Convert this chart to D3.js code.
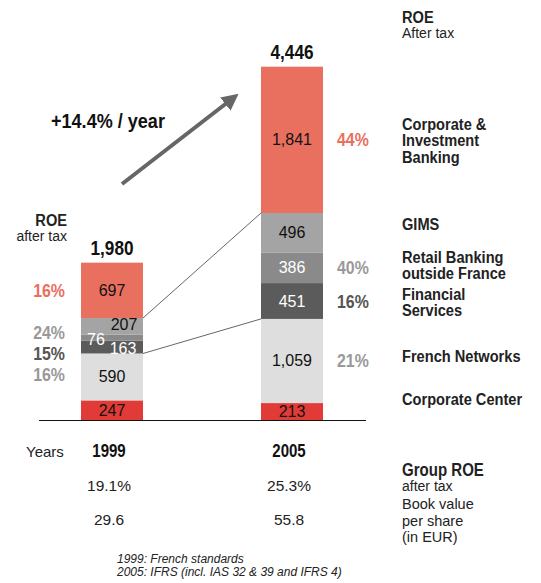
<!DOCTYPE html>
<html><head><meta charset="utf-8">
<script src="https://cdn.jsdelivr.net/npm/d3@7"></script>
<style>
body{margin:0;background:#fff;}
svg{font-family:"Liberation Sans",Arial,sans-serif;}
</style></head>
<body>
<svg id="c" width="541" height="583"></svg>
<script>
// ---- data ----
const years = ["1999", "2005"];
const segments = ["Corporate Center", "French Networks", "Financial Services", "Retail Banking outside France", "GIMS", "Corporate & Investment Banking"];
const values1999 = [247, 590, 163, 76, 207, 697];
const values2005 = [213, 1059, 451, 386, 496, 1841];
const totals = ["1,980", "4,446"];
const roe1999 = [null, "16%", "15%", "24%", null, "16%"];
const roe2005 = [null, "21%", "16%", "40%", null, "44%"];
const groupRoe = ["19.1%", "25.3%"];
const bookValue = ["29.6", "55.8"];
const growth = "+14.4% / year";
const segmentLabels = [["Corporate Center"], ["French Networks"], ["Financial", "Services"], ["Retail Banking", "outside France"], ["GIMS"], ["Corporate &", "Investment", "Banking"]];

// ---- styles ----
const fills = ["#e13b37", "#dedede", "#5b5b5b", "#8a8a8a", "#a4a4a4", "#e9705f"];
const labelFill = ["#111", "#111", "#fff", "#fff", "#111", "#111"];
const roeColor = ["#999", "#999", "#555", "#999", "#999", "#e9705f"];
const SX = 0.86; // horizontal condensing of bold headline type

const svg = d3.select("#c");
const y = d3.scaleLinear().domain([0, 4446]).range([420, 66.7]);
const x = d3.scalePoint().domain(years).range([112, 292]);
const bw = 62;

// condensed bold text helper
function ctext(px, py, size, anchor, fill, lines, lh) {
  const g = svg.append("g").attr("transform", `translate(${px},${py}) scale(${SX},1)`);
  const t = g.append("text").attr("font-weight", "bold").attr("font-size", size)
    .attr("text-anchor", anchor).attr("fill", fill);
  [].concat(lines).forEach((l, j) => t.append("tspan").attr("x", 0).attr("y", j * (lh || 0)).text(l));
  return t;
}

const series = [values1999, values2005];
const stacks = series.map(vals => {
  let acc = 0;
  return vals.map((v, i) => { const d = {i, v, y0: acc, y1: acc + v}; acc += v; return d; });
});

years.forEach((yr, k) => {
  const g = svg.append("g");
  const cx = x(yr);
  g.selectAll("rect").data(stacks[k]).join("rect")
    .attr("x", cx - bw / 2).attr("width", bw)
    .attr("y", d => y(d.y1)).attr("height", d => y(d.y0) - y(d.y1))
    .attr("fill", d => fills[d.i]);
  // value labels
  const dx1999 = {3: -16, 4: 12, 2: 11};
  const dy1999 = {3: 2, 4: -2, 2: 1};
  g.selectAll("text.v").data(stacks[k]).join("text").attr("class", "v")
    .attr("x", d => cx + (k === 0 ? (dx1999[d.i] || 0) : 0))
    .attr("y", d => (y(d.y0) + y(d.y1)) / 2 + 5.5 + (k === 0 ? (dy1999[d.i] || 0) : 0))
    .attr("text-anchor", "middle").attr("font-size", 16)
    .attr("fill", d => labelFill[d.i]).text(d => d3.format(",")(d.v));
  // totals
  ctext(cx, y(d3.sum(series[k])) - 8, 20, "middle", "#111", totals[k]);
});

// ROE percentages
const roeNudge1999 = {5: 0, 3: -5, 2: 6, 1: -2};
stacks[0].forEach(d => {
  if (!roe1999[d.i]) return;
  ctext(65, (y(d.y0) + y(d.y1)) / 2 + 6.5 + roeNudge1999[d.i], 18.5, "end", roeColor[d.i], roe1999[d.i]);
});
stacks[1].forEach(d => {
  if (!roe2005[d.i]) return;
  ctext(337, (y(d.y0) + y(d.y1)) / 2 + 6.5, 18.5, "start", roeColor[d.i], roe2005[d.i]);
});

// connector lines
[5, 2].forEach(top => {
  svg.append("line")
    .attr("x1", x(years[0]) + bw / 2).attr("y1", y(stacks[0][top].y0))
    .attr("x2", x(years[1]) - bw / 2).attr("y2", y(stacks[1][top].y0))
    .attr("stroke", "#666").attr("stroke-width", 1);
});

// baseline
svg.append("line").attr("x1", 39).attr("x2", 366).attr("y1", y(0) + 0.5).attr("y2", y(0) + 0.5)
  .attr("stroke", "#111").attr("stroke-width", 1);

// left ROE header
ctext(67, 226, 17, "end", "#222", "ROE");
svg.append("text").attr("x", 67).attr("y", 241).attr("text-anchor", "end")
  .attr("font-size", 14).attr("fill", "#222").text("after tax");

// right legend
const lx = 402;
ctext(lx, 23, 17, "start", "#222", "ROE");
svg.append("text").attr("x", lx).attr("y", 38).attr("font-size", 14).attr("fill", "#222").text("After tax");
const legendY = [405, 362, 300, 263, 230, 130];
segmentLabels.forEach((lines, i) => ctext(lx, legendY[i], 17, "start", "#222", lines, 16.5));

// arrow
const defs = svg.append("defs");
defs.append("marker").attr("id", "ah").attr("viewBox", "0 0 10 10").attr("refX", 2).attr("refY", 5)
  .attr("markerWidth", 4.2).attr("markerHeight", 4.2).attr("orient", "auto")
  .append("path").attr("d", "M0,0L10,5L0,10z").attr("fill", "#666");
svg.append("line").attr("x1", 122).attr("y1", 184).attr("x2", 228).attr("y2", 102)
  .attr("stroke", "#666").attr("stroke-width", 4).attr("marker-end", "url(#ah)");
ctext(51, 128, 21, "start", "#111", growth);

// bottom table
svg.append("text").attr("x", 26).attr("y", 457).attr("font-size", 15).attr("fill", "#222").text("Years");
years.forEach((yr, k) => {
  const cx = x(yr) - 3;
  ctext(cx, 457, 17.5, "middle", "#111", yr);
  svg.append("text").attr("x", cx).attr("y", 491).attr("text-anchor", "middle")
    .attr("font-size", 15.5).attr("fill", "#222").text(groupRoe[k]);
  svg.append("text").attr("x", cx).attr("y", 525).attr("text-anchor", "middle")
    .attr("font-size", 15.5).attr("fill", "#222").text(bookValue[k]);
});
ctext(lx, 476, 17.5, "start", "#222", "Group ROE");
svg.append("text").attr("x", lx).attr("y", 491).attr("font-size", 14).attr("fill", "#222").text("after tax");
["Book value", "per share", "(in EUR)"].forEach((t, j) =>
  svg.append("text").attr("x", lx).attr("y", 509 + j * 16.5).attr("font-size", 14.5).attr("fill", "#222").text(t));
["1999: French standards", "2005: IFRS (incl. IAS 32 & 39 and IFRS 4)"].forEach((t, j) =>
  svg.append("text").attr("x", 117).attr("y", 563 + j * 13).attr("font-size", 12)
    .attr("font-style", "italic").attr("fill", "#222").text(t));
</script>
</body></html>
